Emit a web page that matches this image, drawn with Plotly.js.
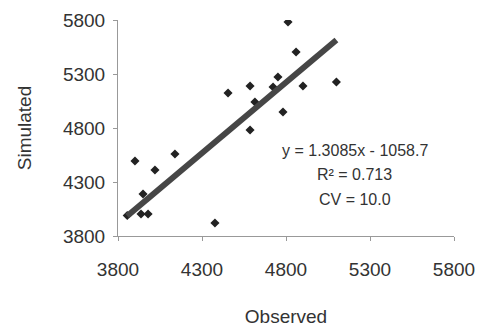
<!DOCTYPE html>
<html>
<head>
<meta charset="utf-8">
<script src="https://cdn.plot.ly/plotly-3.0.1.min.js"></script>
<style>html,body{margin:0;padding:0;background:#fff;}#chart{width:488px;height:329px;}</style>
</head>
<body>
<div id="chart"></div>
<script>
// Observed vs simulated values
var observed  = [3855, 3901, 4139, 4020, 3937, 3979, 4377, 3949, 4455, 4586, 4752, 4901, 5100, 4782, 4586, 4812, 4860, 4615, 4723];
var simulated = [3990, 4494, 4559, 4411, 4004, 4004, 3920, 4189, 5124, 5189, 5272, 5189, 5226, 4948, 4781, 5781, 5504, 5041, 5180];
// Linear trendline coefficients and stats shown on the chart
var slope = 1.3085;
var intercept = -1058.7;
var r2 = 0.713;
var cv = 10.0;
var tickVals = [3800, 4300, 4800, 5300, 5800];

var xmin = Math.min.apply(null, observed);
var xmax = Math.max.apply(null, observed);
var lineX = [xmin, xmax];
var lineY = lineX.map(function (x) { return slope * x + intercept; });

var pts = {
  x: observed, y: simulated, type: 'scatter', mode: 'markers',
  marker: {symbol: 'diamond', size: 7, color: '#222'},
  hoverinfo: 'skip', showlegend: false
};
var trend = {
  x: lineX, y: lineY, type: 'scatter', mode: 'lines',
  line: {color: '#464646', width: 6},
  hoverinfo: 'skip', showlegend: false
};

var fontFam = 'Liberation Sans, Arial, sans-serif';
var layout = {
  width: 488, height: 329,
  margin: {l: 118, r: 34, t: 20, b: 93},
  paper_bgcolor: '#fff', plot_bgcolor: '#fff',
  font: {family: fontFam, color: '#333', size: 19},
  xaxis: {
    range: [3800, 5800], tickvals: tickVals, ticktext: tickVals.map(String),
    showgrid: false, zeroline: false, showline: true, linecolor: '#999', linewidth: 1,
    ticks: 'outside', ticklen: 4, tickcolor: '#999', ticklabelstandoff: 12,
    tickfont: {size: 19, color: '#333'},
    title: {text: 'Observed', font: {size: 19, color: '#333'}, standoff: 30}
  },
  yaxis: {
    range: [3800, 5800], tickvals: tickVals, ticktext: tickVals.map(String),
    showgrid: false, zeroline: false, showline: true, linecolor: '#999', linewidth: 1,
    ticks: 'outside', ticklen: 4, tickcolor: '#999', ticklabelstandoff: 4,
    tickfont: {size: 19, color: '#333'},
    title: {text: 'Simulated', font: {size: 19, color: '#333'}, standoff: 26}
  },
  annotations: [
    {xref: 'paper', yref: 'paper', x: 0.705, y: 0.395, xanchor: 'center', yanchor: 'middle',
     text: 'y = ' + slope.toFixed(4) + 'x - ' + Math.abs(intercept).toFixed(1), showarrow: false,
     font: {size: 16, color: '#333', family: fontFam}},
    {xref: 'paper', yref: 'paper', x: 0.705, y: 0.285, xanchor: 'center', yanchor: 'middle',
     text: 'R² = ' + r2.toFixed(3), showarrow: false,
     font: {size: 16, color: '#333', family: fontFam}},
    {xref: 'paper', yref: 'paper', x: 0.705, y: 0.17, xanchor: 'center', yanchor: 'middle',
     text: 'CV = ' + cv.toFixed(1), showarrow: false,
     font: {size: 16, color: '#333', family: fontFam}}
  ]
};

Plotly.newPlot('chart', [pts, trend], layout, {staticPlot: true, displayModeBar: false});
</script>
</body>
</html>
